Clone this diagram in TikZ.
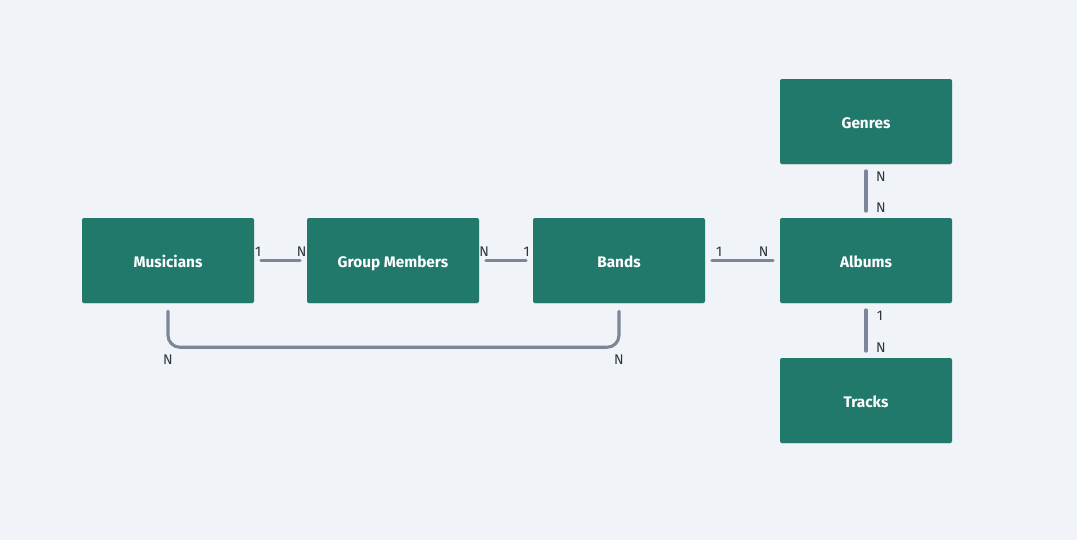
\documentclass[tikz,border=0pt]{standalone}
\usepackage{fontspec}
\setmainfont{Fira Sans}
\usetikzlibrary{positioning, calc, shadows}
\definecolor{boxgreen}{HTML}{20796A}
\definecolor{linegray}{HTML}{7B8799}
\definecolor{bggray}{HTML}{F0F3F7}
\definecolor{labeldark}{HTML}{2D3440}

\begin{document}
\begin{tikzpicture}[x=0.75pt, y=-0.75pt,
        entity/.style={rectangle, rounded corners=1.5pt, fill=boxgreen, text=white,
            font=\bfseries\fontsize{11.5}{13}\selectfont, text height=10pt, text depth=0pt,
            minimum width=129pt, minimum height=63.75pt, inner sep=0pt,
            drop shadow={opacity=0.12, shadow xshift=0pt, shadow yshift=-0.8pt}},
        rel/.style={draw=linegray, line width=2.3pt, line cap=round, shorten <=5pt, shorten >=5pt},
        card/.style={font=\fontsize{10.5}{12}\selectfont, text=labeldark, inner sep=0pt}]
    \fill[bggray] (0,0) rectangle (1077,540);
    \useasboundingbox (0,0) rectangle (1077,540);

    % entities
    \node[entity] (mus) at (168,260.5) {Musicians};
    \node[entity] (grp) at (393,260.5) {Group Members};
    \node[entity] (bnd) at (619,260.5) {Bands};
    \node[entity] (alb) at (866,260.5) {Albums};
    \node[entity] (gen) at (866,121.5) {Genres};
    \node[entity] (trk) at (866,400.5) {Tracks};

    % relations
    \draw[rel] (mus.east) -- (grp.west);
    \draw[rel] (grp.east) -- (bnd.west);
    \draw[rel] (bnd.east) -- (alb.west);
    \draw[rel] (gen.south) -- (alb.north);
    \draw[rel] (alb.south) -- (trk.north);
    \draw[rel, rounded corners=9pt, shorten <=6pt, shorten >=6pt] (mus.south) -- ++(0,44) -| (bnd.south);

    % cardinalities
    \node[card] (c1) at ($(mus.east)+(4,-8.5)$) {1};
    \node[card] (c2) at ($(grp.west)+(-5,-8.5)$) {N};
    \node[card] (c3) at ($(grp.east)+(5,-8.5)$) {N};
    \node[card] (c4) at ($(bnd.west)+(-6,-8.5)$) {1};
    \node[card] (c5) at ($(bnd.east)+(14,-8.5)$) {1};
    \node[card] (c6) at ($(alb.west)+(-16,-8.5)$) {N};
    \node[card] (c7) at ($(gen.south)+(15,12)$) {N};
    \node[card] (c8) at ($(alb.north)+(15,-10)$) {N};
    \node[card] (c9) at ($(alb.south)+(14,13)$) {1};
    \node[card] (c10) at ($(trk.north)+(15,-10)$) {N};
    \node[card] (c11) at ($(mus.south)+(0,56)$) {N};
    \node[card] (c12) at ($(bnd.south)+(0,56)$) {N};
\end{tikzpicture}
\end{document}
